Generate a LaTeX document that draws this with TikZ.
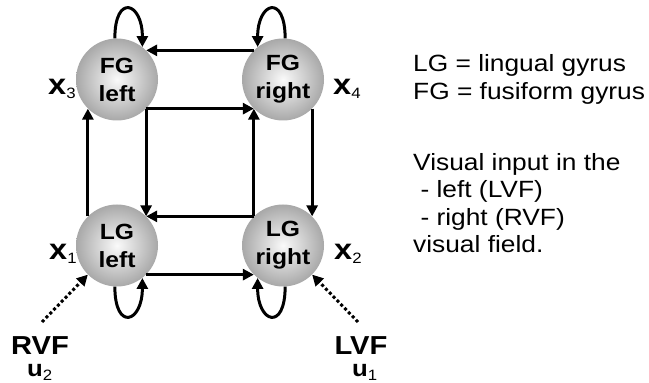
\documentclass[tikz,border=0pt]{standalone}
\usepackage{fontspec}
\setmainfont{Liberation Sans}[FakeStretch=1.12]
\usetikzlibrary{positioning,arrows.meta}

% region label x_i / input u_i
\newcommand{\varlab}[2]{{\bfseries #1}\raisebox{-4pt}{\fontsize{15}{15}\selectfont #2}}

\tikzset{
  area/.style={circle,minimum size=82pt,inner sep=0pt,align=center,
    shading=radial,inner color=gray!4,outer color=gray!68,
    font=\fontsize{22}{28}\selectfont\bfseries},
  conn/.style={line width=3pt,-{Triangle[length=11pt,width=11pt]}},
  input/.style={conn,dash pattern=on 3pt off 2.5pt},
  lab/.style={anchor=base west,inner sep=0pt,font=\fontsize{29}{30}\selectfont},
}

\begin{document}
\begin{tikzpicture}[x=1pt,y=1pt,node distance=166pt]
  \useasboundingbox (0,0) rectangle (649,383);

  \node[area] (LGl) at (117,137.5) {LG\\left};
  \node[area,right of=LGl] (LGr) {LG\\right};
  \node[area,above of=LGl] (FGl) {FG\\left};
  \node[area,right of=FGl] (FGr) {FG\\right};

  % connections between the regions
  \draw[conn] (FGr.135) -- (FGl.45);
  \draw[conn] (FGl.-45) -- (FGr.-135);
  \draw[conn] (FGl.-45) -- (LGl.45);
  \draw[conn] (LGr.135) -- (LGl.45);
  \draw[conn] (LGr.135) -- (FGr.-135);
  \draw[conn] (LGl.135) -- (FGl.-135);
  \draw[conn] (FGr.-45) -- (LGr.45);
  \draw[conn] (LGl.-45) -- (LGr.-135);

  % self connections
  \draw[conn] (FGl.93) .. controls +(0,45) and +(0,45) .. (FGl.52);
  \draw[conn] (FGr.87) .. controls +(0,45) and +(0,45) .. (FGr.128);
  \draw[conn] (LGl.-93) .. controls +(0,-45) and +(0,-45) .. (LGl.-52);
  \draw[conn] (LGr.-87) .. controls +(0,-45) and +(0,-45) .. (LGr.-128);

  % driving inputs
  \coordinate (rvf) at (42,61);
  \coordinate (lvf) at (358,61);
  \draw[input] (rvf) -- (LGl.-135);
  \draw[input] (lvf) -- (LGr.-45);

  \node[lab] (x1) at (49,123.5) {\varlab{x}{1}};
  \node[lab] (x2) at (334,123.5) {\varlab{x}{2}};
  \node[lab] (x3) at (48,288) {\varlab{x}{3}};
  \node[lab] (x4) at (333,288) {\varlab{x}{4}};

  \node[anchor=base,inner sep=0pt,font=\fontsize{26}{26}\selectfont\bfseries] (RVF) at (40,28) {RVF};
  \node[anchor=base,inner sep=0pt,font=\fontsize{26}{26}\selectfont\bfseries] (LVF) at (361,28) {LVF};
  \node[lab,font=\fontsize{23}{23}\selectfont] (u2) at (27,6) {\varlab{u}{2}};
  \node[lab,font=\fontsize{23}{23}\selectfont] (u1) at (352,6) {\varlab{u}{1}};

  % legend (base is the last line)
  \node[anchor=base west,inner sep=0pt,align=left,font=\fontsize{23.5}{28}\selectfont] (abbr) at (413,283)
    {LG = lingual gyrus\\FG = fusiform gyrus};
  \node[anchor=base west,inner sep=0pt,align=left,font=\fontsize{23.5}{27.5}\selectfont] (vf) at (413,130)
    {Visual input in the\\\ - left (LVF)\\\ - right (RVF)\\visual field.};
\end{tikzpicture}
\end{document}
